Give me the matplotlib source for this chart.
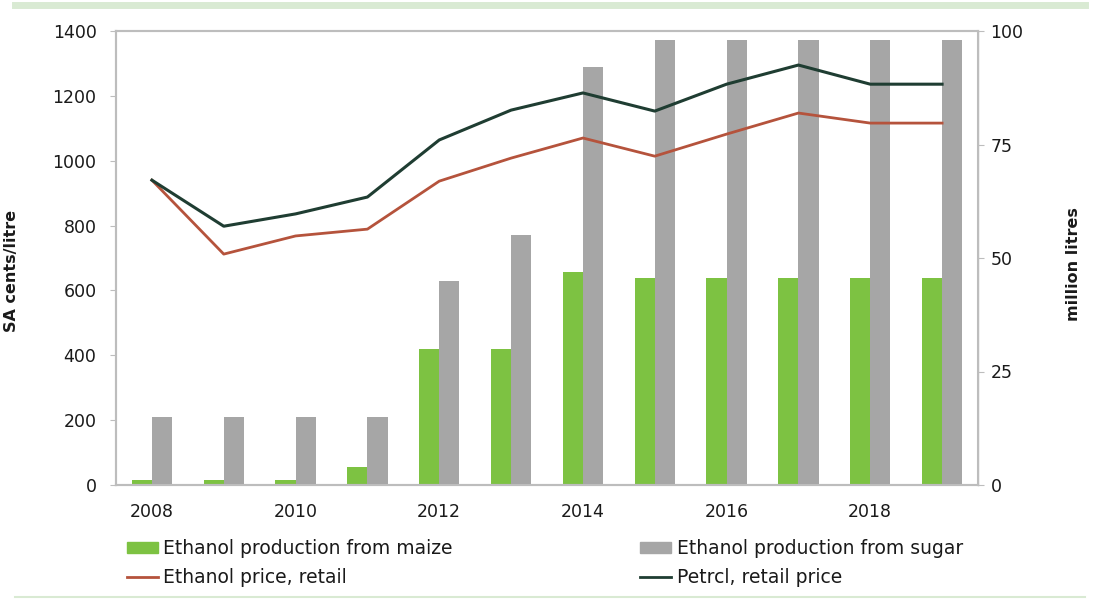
import numpy as np
import matplotlib.pyplot as plt
from matplotlib.lines import Line2D
from matplotlib.patches import Patch

plt.rcParams['font.family'] = ['DejaVu Sans']

# Data
years = [2008, 2009, 2010, 2011, 2012, 2013, 2014, 2015, 2016, 2017, 2018, 2019]
maize_ml = [1, 1, 1, 4, 30, 30, 47, 45.5, 45.5, 45.5, 45.5, 45.5]      # million litres
sugar_ml = [15, 15, 15, 15, 45, 55, 92, 98, 98, 98, 98, 98]              # million litres
ethanol_price = [940, 712, 768, 789, 937, 1008, 1070, 1014, 1082, 1147, 1116, 1116]  # SA cents/litre
petrol_price = [940, 798, 836, 888, 1064, 1156, 1209, 1153, 1236, 1295, 1236, 1236]

tick_years = ["2008", "2010", "2012", "2014", "2016", "2018"]

green = "#7dc242"
grey = "#a6a6a6"
eth_col = "#b5533c"
pet_col = "#1f3d32"
spine_col = "#bdbdbd"
txt_col = "#1a1a1a"

fig = plt.figure(figsize=(10.97, 6.03), dpi=100)
ax = fig.add_axes([116 / 1097, 1 - 485 / 603, 862 / 1097, 454 / 603])
ax2 = ax.twinx()

x = np.arange(len(years))
w = 0.28
ax2.bar(x - w / 2, maize_ml, width=w, color=green, zorder=1)
ax2.bar(x + w / 2, sugar_ml, width=w, color=grey, zorder=1)
ax2.set_ylim(0, 100)
ax2.set_yticks([0, 25, 50, 75, 100])

# lines drawn above the bars
ax.set_zorder(ax2.get_zorder() + 1)
ax.patch.set_visible(False)
ax.plot(x, ethanol_price, color=eth_col, lw=2)
ax.plot(x, petrol_price, color=pet_col, lw=2.2)
ax.set_ylim(0, 1400)
ax.set_yticks(range(0, 1401, 200))
ax.set_xlim(-0.5, len(years) - 0.5)
ax.set_xticks(x[::2])
ax.set_xticklabels(tick_years)

for a in (ax, ax2):
    for s in a.spines.values():
        s.set_color(spine_col)
        s.set_linewidth(1.5)
    a.tick_params(colors=spine_col, labelcolor=txt_col, labelsize=12.5, length=4)
ax.tick_params(axis="x", length=0, pad=13)
ax.tick_params(axis="y", pad=10)
ax2.tick_params(axis="y", pad=5)
ax2.spines["right"].set_linewidth(1.0)

ax.set_ylabel("SA cents/litre", fontsize=11.5, fontweight="bold", color=txt_col)
ax.yaxis.set_label_coords(-0.112, (485 - 271) / 454)
ax2.set_ylabel("million litres", fontsize=11.5, fontweight="bold", color=txt_col, rotation=90)
ax2.yaxis.set_label_coords((1066 - 116) / 862, (485 - 264) / 454)

handles = [
    Patch(color=green, label="Ethanol production from maize"),
    Line2D([], [], color=eth_col, lw=2, label="Ethanol price, retail"),
    Patch(color=grey, label="Ethanol production from sugar"),
    Line2D([], [], color=pet_col, lw=2, label="Petrcl, retail price"),
]
leg = fig.legend(handles=handles, ncol=2, loc="upper left", bbox_to_anchor=(110 / 1097, 1 - 522 / 603),
                 frameon=False, fontsize=13.5, columnspacing=10, handlelength=1.65, handleheight=0.5,
                 handletextpad=0.3, labelspacing=0.55)
for t in leg.get_texts():
    t.set_color(txt_col)

# light green frame lines
fig.add_artist(Line2D([15 / 1097, 1085 / 1097], [1 - 5 / 603, 1 - 5 / 603], color="#d9ead3", lw=5))
fig.add_artist(Line2D([15 / 1097, 1085 / 1097], [1 - 597 / 603, 1 - 597 / 603], color="#d9ead3", lw=1.5))

fig.savefig("out.png", dpi=100)
